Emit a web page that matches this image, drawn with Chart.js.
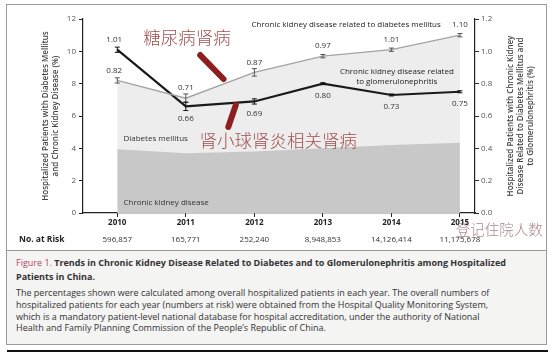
<!DOCTYPE html>
<html>
<head>
<meta charset="utf-8">
<script src="https://cdn.jsdelivr.net/npm/chart.js@4.4.1/dist/chart.umd.min.js"></script>
<style>
	html, body { margin: 0; padding: 0; background: #fff; }
	body { width: 559px; height: 354px; position: relative; overflow: hidden; font-family: 'Open Sans', sans-serif; }
	#frame { position: absolute; left: 6px; top: 4px; width: 541px; height: 341px; border: 1.5px solid #9a9a9a; box-sizing: border-box; }
	#caption { position: absolute; left: 7px; top: 250px; width: 539px; height: 94px; background: #f4f4f3; border-top: 1.5px solid #9a9a9a; box-sizing: border-box; padding: 5px 0 0 9px; color: #333; }
	#caption .ttl { font-size: 9px; font-weight: 700; line-height: 14px; white-space: nowrap; }
	#caption .fig { color: #b5475a; font-weight: 400; }
	#caption .txt { margin-top: 3px; font-size: 9px; line-height: 11.8px; white-space: nowrap; }
	#rule { position: absolute; left: 7px; top: 350px; width: 541px; height: 2px; background: #111; }
	#wrap { position: absolute; left: 0; top: 0; width: 559px; height: 250px; }
</style>
</head>
<body>
<div id="frame"></div>
<div id="caption">
	<div class="ttl"><span class="fig">Figure 1.</span> Trends in Chronic Kidney Disease Related to Diabetes and to Glomerulonephritis among Hospitalized<br>Patients in China.</div>
	<div class="txt">The percentages shown were calculated among overall hospitalized patients in each year. The overall numbers of<br>hospitalized patients for each year (numbers at risk) were obtained from the Hospital Quality Monitoring System,<br>which is a mandatory patient-level national database for hospital accreditation, under the authority of National<br>Health and Family Planning Commission of the People’s Republic of China.</div>
</div>
<div id="rule"></div>
<div id="wrap"><canvas id="chart" width="559" height="250"></canvas></div>
<script>
// values
const years = [ 2010, 2011, 2012, 2013, 2014, 2015 ];
const atRisk = [ '596,857', '165,771', '252,240', '8,948,853', '14,126,414', '11,175,678' ];
// areas, left axis (%)
const ckdArea = [ 3.95, 3.7, 3.8, 4.0, 4.2, 4.35 ];
const dmArea = [ 8.2, 7.1, 8.7, 9.7, 10.1, 11.0 ];
// lines, right axis (%)
const dmRelated = [ 0.82, 0.71, 0.87, 0.97, 1.01, 1.1 ];
const dmRelatedErr = [ 0.01, 0.02, 0.017, 0.004, 0.004, 0.004 ];
const gnRelated = [ 1.01, 0.66, 0.69, 0.8, 0.73, 0.75 ];
const gnRelatedErr = [ 0.01, 0.02, 0.01, 0, 0, 0 ];
const leftTicks = [ 0, 2, 4, 6, 8, 10, 12 ];
const rightTicks = [ 0, 0.2, 0.4, 0.6, 0.8, 1.0, 1.2 ];

const leftTitle = [ 'Hospitalized Patients with Diabetes Mellitus', 'and Chronic Kidney Disease (%)' ];
const rightTitle = [ 'Hospitalized Patients with Chronic Kidney', 'Disease Related to Diabetes Mellitus and', 'to Glomerulonephritis (%)' ];

const FONT = '"Open Sans", "Liberation Sans", sans-serif';
const CJK = '"Noto Sans CJK SC", sans-serif';

const pts = ( arr ) => arr.map( ( v, i ) => ( { x: years[ i ], y: v } ) );

// text placed in data units (x = year, y = left axis %)
const notes = [
	{ text: 'Chronic kidney disease related to diabetes mellitus', x: 2013.34, y: 11.63, align: 'center', font: '8px ' + FONT, color: '#222' },
	{ text: 'Chronic kidney disease related', x: 2014.08, y: 8.72, align: 'center', font: '8px ' + FONT, color: '#222' },
	{ text: 'to glomerulonephritis', x: 2014.08, y: 8.1, align: 'center', font: '8px ' + FONT, color: '#222' },
	{ text: 'Diabetes mellitus', x: 2010.09, y: 4.58, align: 'left', font: '8px ' + FONT, color: '#333' },
	{ text: 'Chronic kidney disease', x: 2010.09, y: 0.62, align: 'left', font: '8px ' + FONT, color: '#333' },
];
const cnNotes = [
	{ text: '糖尿病肾病', x: 2010.38, y: 10.88, font: '300 17.5px ' + CJK, color: '#a04e4e' },
	{ text: '肾小球肾炎相关肾病', x: 2011.2, y: 4.5, font: '300 17.5px ' + CJK, color: '#a04e4e' },
	{ text: '登记住院人数', x: 2014.94, y: -1.05, font: '300 14.5px ' + CJK, color: 'rgba(150,105,110,0.8)' },
];
const slashes = [ [ 2011.21, 9.77, 2011.55, 8.29 ], [ 2011.73, 6.68, 2011.62, 5.32 ] ];

const figurePlugin = {
	id: 'figureExtras',
	afterDatasetsDraw( chart ) {
		const c = chart.ctx;
		const xs = chart.scales.x;
		const yl = chart.scales.y;
		const yr = chart.scales.y1;
		const area = chart.chartArea;

		// error bars
		const bars = ( vals, errs, color, w ) => {
			c.save();
			c.strokeStyle = color;
			c.lineWidth = w;
			vals.forEach( ( v, i ) => {
				const x = xs.getPixelForValue( years[ i ] );
				const a = yr.getPixelForValue( v - errs[ i ] ) + 1;
				const b = yr.getPixelForValue( v + errs[ i ] ) - 1;
				c.beginPath();
				c.moveTo( x, a );
				c.lineTo( x, b );
				c.moveTo( x - 2.5, a );
				c.lineTo( x + 2.5, a );
				c.moveTo( x - 2.5, b );
				c.lineTo( x + 2.5, b );
				c.stroke();
			} );
			c.restore();
		};
		bars( dmRelated, dmRelatedErr, '#555', 1 );
		bars( gnRelated, gnRelatedErr, '#111', 1 );

		// value labels
		c.save();
		c.font = '8px ' + FONT;
		c.fillStyle = '#333';
		c.textAlign = 'center';
		c.textBaseline = 'middle';
		dmRelated.forEach( ( v, i ) => {
			const x = xs.getPixelForValue( years[ i ] ) - ( i === 0 ? 3 : 0 );
			c.fillText( v.toFixed( 2 ), x, yr.getPixelForValue( v ) - 10 );
		} );
		gnRelated.forEach( ( v, i ) => {
			const x = xs.getPixelForValue( years[ i ] ) - ( i === 0 ? 3 : 0 );
			const y = yr.getPixelForValue( v ) + ( i === 0 ? -10 : 12 );
			c.fillText( v.toFixed( 2 ), x, y );
		} );

		// series notes
		notes.forEach( n => {
			c.font = n.font;
			c.fillStyle = n.color;
			c.textAlign = n.align;
			c.fillText( n.text, xs.getPixelForValue( n.x ), yl.getPixelForValue( n.y ) );
		} );

		// numbers at risk
		const ry = area.bottom + 27;
		c.font = 'bold 8.5px ' + FONT;
		c.fillStyle = '#222';
		c.textAlign = 'left';
		c.fillText( 'No. at Risk', 19, ry );
		c.font = '8px ' + FONT;
		c.fillStyle = '#333';
		c.textAlign = 'center';
		atRisk.forEach( ( t, i ) => c.fillText( t, xs.getPixelForValue( years[ i ] ), ry ) );

		// axis titles
		const midY = ( area.top + area.bottom ) / 2;
		c.font = '600 8px ' + FONT;
		c.fillStyle = '#444';
		leftTitle.forEach( ( t, i ) => {
			c.save();
			c.translate( area.left - 37 + i * 10, midY );
			c.rotate( -Math.PI / 2 );
			c.fillText( t, 0, 0 );
			c.restore();
		} );
		rightTitle.forEach( ( t, i ) => {
			c.save();
			c.translate( area.right + 36 + i * 10, midY );
			c.rotate( -Math.PI / 2 );
			c.fillText( t, 0, 0 );
			c.restore();
		} );
		c.restore();
	},
	afterDraw( chart ) {
		const c = chart.ctx;
		const xs = chart.scales.x;
		const yl = chart.scales.y;
		c.save();
		// red strokes pointing at the lines
		c.strokeStyle = '#8e1f1f';
		c.lineWidth = 6;
		c.lineCap = 'round';
		slashes.forEach( s => {
			c.beginPath();
			c.moveTo( xs.getPixelForValue( s[ 0 ] ), yl.getPixelForValue( s[ 1 ] ) );
			c.lineTo( xs.getPixelForValue( s[ 2 ] ), yl.getPixelForValue( s[ 3 ] ) );
			c.stroke();
		} );
		c.textAlign = 'left';
		c.textBaseline = 'middle';
		cnNotes.forEach( n => {
			c.font = n.font;
			c.fillStyle = n.color;
			c.fillText( n.text, xs.getPixelForValue( n.x ), yl.getPixelForValue( n.y ) );
		} );
		c.restore();
	},
};

const axisGrid = {
	display: true,
	drawOnChartArea: false,
	drawTicks: true,
	tickLength: 4,
	color: '#222',
	lineWidth: 1,
};

// eslint-disable-next-line no-new
new Chart( document.getElementById( 'chart' ), {
	type: 'line',
	data: {
		datasets: [
			{
				label: 'Chronic kidney disease related to diabetes mellitus',
				data: pts( dmRelated ),
				yAxisID: 'y1',
				borderColor: '#a3a3a3',
				borderWidth: 1.3,
				pointRadius: 0,
				fill: false,
				order: 0,
			},
			{
				label: 'Chronic kidney disease related to glomerulonephritis',
				data: pts( gnRelated ),
				yAxisID: 'y1',
				borderColor: '#1a1a1a',
				borderWidth: 2.2,
				pointRadius: 0,
				fill: false,
				order: 1,
			},
			{
				label: 'Chronic kidney disease',
				data: pts( ckdArea ),
				yAxisID: 'y',
				borderWidth: 0,
				pointRadius: 0,
				backgroundColor: '#c8c8c8',
				fill: 'origin',
				order: 2,
			},
			{
				label: 'Diabetes mellitus',
				data: pts( dmArea ),
				yAxisID: 'y',
				borderWidth: 0,
				pointRadius: 0,
				backgroundColor: '#ededed',
				fill: 'origin',
				order: 3,
			},
		],
	},
	options: {
		responsive: false,
		animation: false,
		layout: { padding: { top: 19, left: 0, right: 0, bottom: 0 } },
		plugins: {
			legend: { display: false },
			tooltip: { enabled: false },
		},
		scales: {
			x: {
				type: 'linear',
				min: 2009.5,
				max: 2015.22,
				afterBuildTicks: scale => {
					scale.ticks = years.map( v => ( { value: v } ) );
				},
				afterFit: scale => {
					scale.height = 37;
				},
				grid: axisGrid,
				border: { display: true, color: '#222', width: 1.2 },
				ticks: {
					padding: 1,
					color: '#222',
					font: { family: FONT, size: 8, weight: 'bold' },
					callback: v => String( v ),
				},
			},
			y: {
				position: 'left',
				min: 0,
				max: 12,
				afterBuildTicks: scale => {
					scale.ticks = leftTicks.map( v => ( { value: v } ) );
				},
				afterFit: scale => {
					scale.width = 83;
				},
				grid: axisGrid,
				border: { display: true, color: '#222', width: 1.2 },
				ticks: {
					padding: 3,
					color: '#555',
					font: { family: FONT, size: 8 },
				},
			},
			y1: {
				position: 'right',
				min: 0,
				max: 1.2,
				afterBuildTicks: scale => {
					scale.ticks = rightTicks.map( v => ( { value: v } ) );
				},
				afterFit: scale => {
					scale.width = 84;
				},
				grid: axisGrid,
				border: { display: true, color: '#222', width: 1.2 },
				ticks: {
					padding: 2,
					color: '#555',
					font: { family: FONT, size: 8 },
					callback: v => v.toFixed( 1 ),
				},
			},
		},
	},
	plugins: [ figurePlugin ],
} );
</script>
</body>
</html>
